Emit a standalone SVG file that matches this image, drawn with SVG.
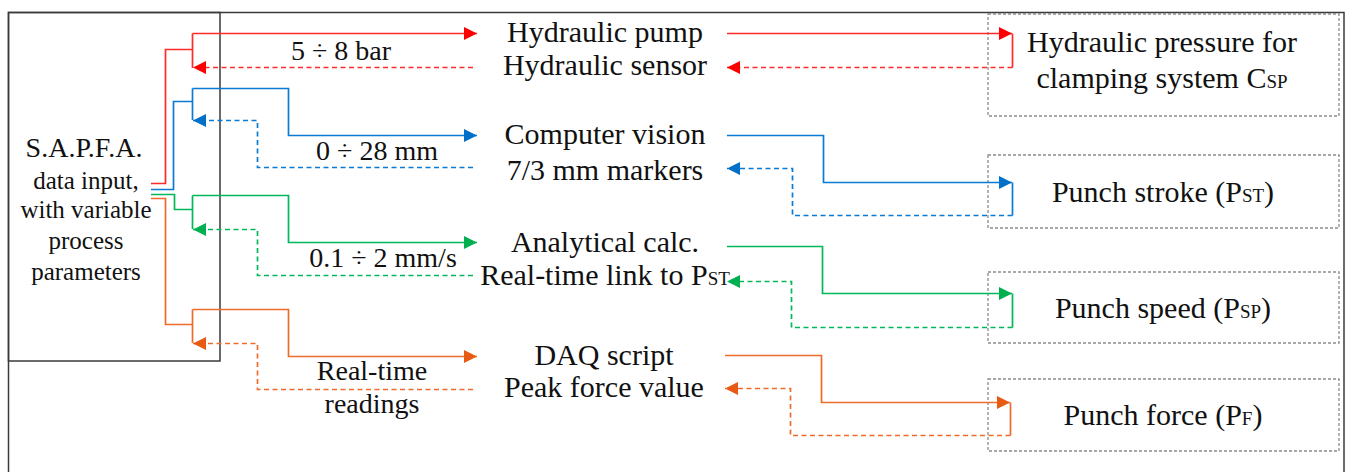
<svg xmlns="http://www.w3.org/2000/svg" width="1347" height="472" viewBox="0 0 1347 472">
  <style>
    text { font-family: "Liberation Serif", "Times New Roman", serif; fill: #111; text-anchor: middle; }
    .lbl { font-size: 30px; }
    .rng { font-size: 28px; }
    .sm { font-size: 25px; }
    .sub { font-size: 19px; }
    .frame { fill: none; stroke: #3a3a3a; stroke-width: 1.5; }
    .box { fill: none; stroke: #8c8c8c; stroke-width: 1.3; stroke-dasharray: 3 2; }
    .c { fill: none; stroke-width: 1.7; }
    .d { stroke-dasharray: 5 3.5; }
    .red { stroke: #ff2a2a; }
    .blue { stroke: #0a7ad2; }
    .green { stroke: #00b85a; }
    .orange { stroke: #ee6b2c; }
  </style>
  <defs>
    <marker id="ahRed" markerUnits="userSpaceOnUse" markerWidth="13" markerHeight="13" refX="13" refY="6.5" orient="auto">
      <path d="M0,0 L13,6.5 L0,13 z" fill="#ff0000"/>
    </marker>
    <marker id="ahBlue" markerUnits="userSpaceOnUse" markerWidth="13" markerHeight="13" refX="13" refY="6.5" orient="auto">
      <path d="M0,0 L13,6.5 L0,13 z" fill="#0070c8"/>
    </marker>
    <marker id="ahGreen" markerUnits="userSpaceOnUse" markerWidth="13" markerHeight="13" refX="13" refY="6.5" orient="auto">
      <path d="M0,0 L13,6.5 L0,13 z" fill="#00b050"/>
    </marker>
    <marker id="ahOrange" markerUnits="userSpaceOnUse" markerWidth="13" markerHeight="13" refX="13" refY="6.5" orient="auto">
      <path d="M0,0 L13,6.5 L0,13 z" fill="#e65a14"/>
    </marker>
  </defs>

  <rect width="1347" height="472" fill="#ffffff"/>
  <!-- outer frame -->
  <rect class="frame" x="8.5" y="12.5" width="1335.5" height="480"/>

  <!-- source block -->
  <g id="sapfa">
    <rect class="frame" x="8.5" y="12.5" width="211.5" height="348.5"/>
    <text x="84" y="157" style="font-size:28px">S.A.P.F.A.</text>
    <text class="sm" x="86" y="189">data input,</text>
    <text class="sm" x="86" y="218">with variable</text>
    <text class="sm" x="86" y="249">process</text>
    <text class="sm" x="86" y="280">parameters</text>
  </g>

  <!-- middle labels -->
  <g id="hydraulic">
    <text class="lbl" x="605" y="42">Hydraulic pump</text>
    <text class="lbl" x="605" y="75">Hydraulic sensor</text>
  </g>
  <g id="vision">
    <text class="lbl" x="605" y="144">Computer vision</text>
    <text class="lbl" x="605" y="180">7/3 mm markers</text>
  </g>
  <g id="analytical">
    <text class="lbl" x="605" y="252">Analytical calc.</text>
    <text class="lbl" x="605" y="285">Real-time link to P<tspan class="sub">ST</tspan></text>
  </g>
  <g id="daq">
    <text class="lbl" x="604" y="365">DAQ script</text>
    <text class="lbl" x="604" y="397">Peak force value</text>
  </g>

  <!-- range labels -->
  <g id="ranges">
    <text class="rng" x="341" y="60">5 ÷ 8 bar</text>
    <text class="rng" x="377" y="160">0 ÷ 28 mm</text>
    <text class="rng" x="383" y="267">0.1 ÷ 2 mm/s</text>
    <text class="rng" x="372" y="380">Real-time</text>
    <text class="rng" x="372" y="413">readings</text>
  </g>

  <!-- controlled parameters -->
  <g id="csp">
    <rect class="box" x="988" y="14" width="351" height="102"/>
    <text class="lbl" x="1162" y="52">Hydraulic pressure for</text>
    <text class="lbl" x="1162" y="88">clamping system C<tspan class="sub">SP</tspan></text>
  </g>
  <g id="pst">
    <rect class="box" x="988" y="155" width="351" height="73"/>
    <text class="lbl" x="1163" y="202">Punch stroke (P<tspan class="sub">ST</tspan>)</text>
  </g>
  <g id="psp">
    <rect class="box" x="988" y="272" width="351" height="71"/>
    <text class="lbl" x="1163" y="318">Punch speed (P<tspan class="sub">SP</tspan>)</text>
  </g>
  <g id="pf">
    <rect class="box" x="988" y="379" width="351" height="72"/>
    <text class="lbl" x="1163" y="425">Punch force (P<tspan class="sub">F</tspan>)</text>
  </g>

  <!-- connectors -->
  <g id="connectors">
    <!-- pressure loop -->
    <path class="c red" d="M151,183.5 H165.5 V49.5 H192"/>
    <path class="c red" d="M192.5,33.5 V68"/>
    <path class="c red" d="M192.5,33.5 H477" marker-end="url(#ahRed)"/>
    <path class="c red d" d="M473,67.5 H193" marker-end="url(#ahRed)"/>
    <path class="c red" d="M727,33.5 H1012" marker-end="url(#ahRed)"/>
    <path class="c red" d="M1012.5,33.5 V67.5"/>
    <path class="c red d" d="M1012.5,67.5 H727" marker-end="url(#ahRed)"/>

    <!-- stroke loop -->
    <path class="c blue" d="M151,189.5 H173.5 V101.5 H192"/>
    <path class="c blue" d="M192.5,88.5 V120"/>
    <path class="c blue" d="M192.5,88.5 H288.5 V135.5 H477" marker-end="url(#ahBlue)"/>
    <path class="c blue d" d="M473,167.5 H257.5 V120.5 H193" marker-end="url(#ahBlue)"/>
    <path class="c blue" d="M727,135.5 H823.5 V182.5 H1012" marker-end="url(#ahBlue)"/>
    <path class="c blue" d="M1012.5,182.5 V215.5"/>
    <path class="c blue d" d="M1012.5,215.5 H792.5 V168.5 H727" marker-end="url(#ahBlue)"/>

    <!-- speed loop -->
    <path class="c green" d="M151,194.5 H174.5 V209.5 H192"/>
    <path class="c green" d="M192.5,195.5 V229"/>
    <path class="c green" d="M192.5,195.5 H288.5 V242.5 H477" marker-end="url(#ahGreen)"/>
    <path class="c green d" d="M473,275.5 H257.5 V229.5 H193" marker-end="url(#ahGreen)"/>
    <path class="c green" d="M727,246.5 H822.5 V293.5 H1012" marker-end="url(#ahGreen)"/>
    <path class="c green" d="M1012.5,293.5 V327.5"/>
    <path class="c green d" d="M1012.5,327.5 H791.5 V281.5 H727" marker-end="url(#ahGreen)"/>

    <!-- force loop -->
    <path class="c orange" d="M151,198.5 H165.5 V324.5 H192"/>
    <path class="c orange" d="M192.5,309.5 V343"/>
    <path class="c orange" d="M192.5,309.5 H288.5 V356.5 H477" marker-end="url(#ahOrange)"/>
    <path class="c orange d" d="M473,389.5 H257.5 V343.5 H193" marker-end="url(#ahOrange)"/>
    <path class="c orange" d="M725,355.5 H821.5 V402.5 H1010" marker-end="url(#ahOrange)"/>
    <path class="c orange" d="M1010.5,402.5 V435.5"/>
    <path class="c orange d" d="M1010.5,435.5 H790.5 V388.5 H725" marker-end="url(#ahOrange)"/>
  </g>
</svg>
